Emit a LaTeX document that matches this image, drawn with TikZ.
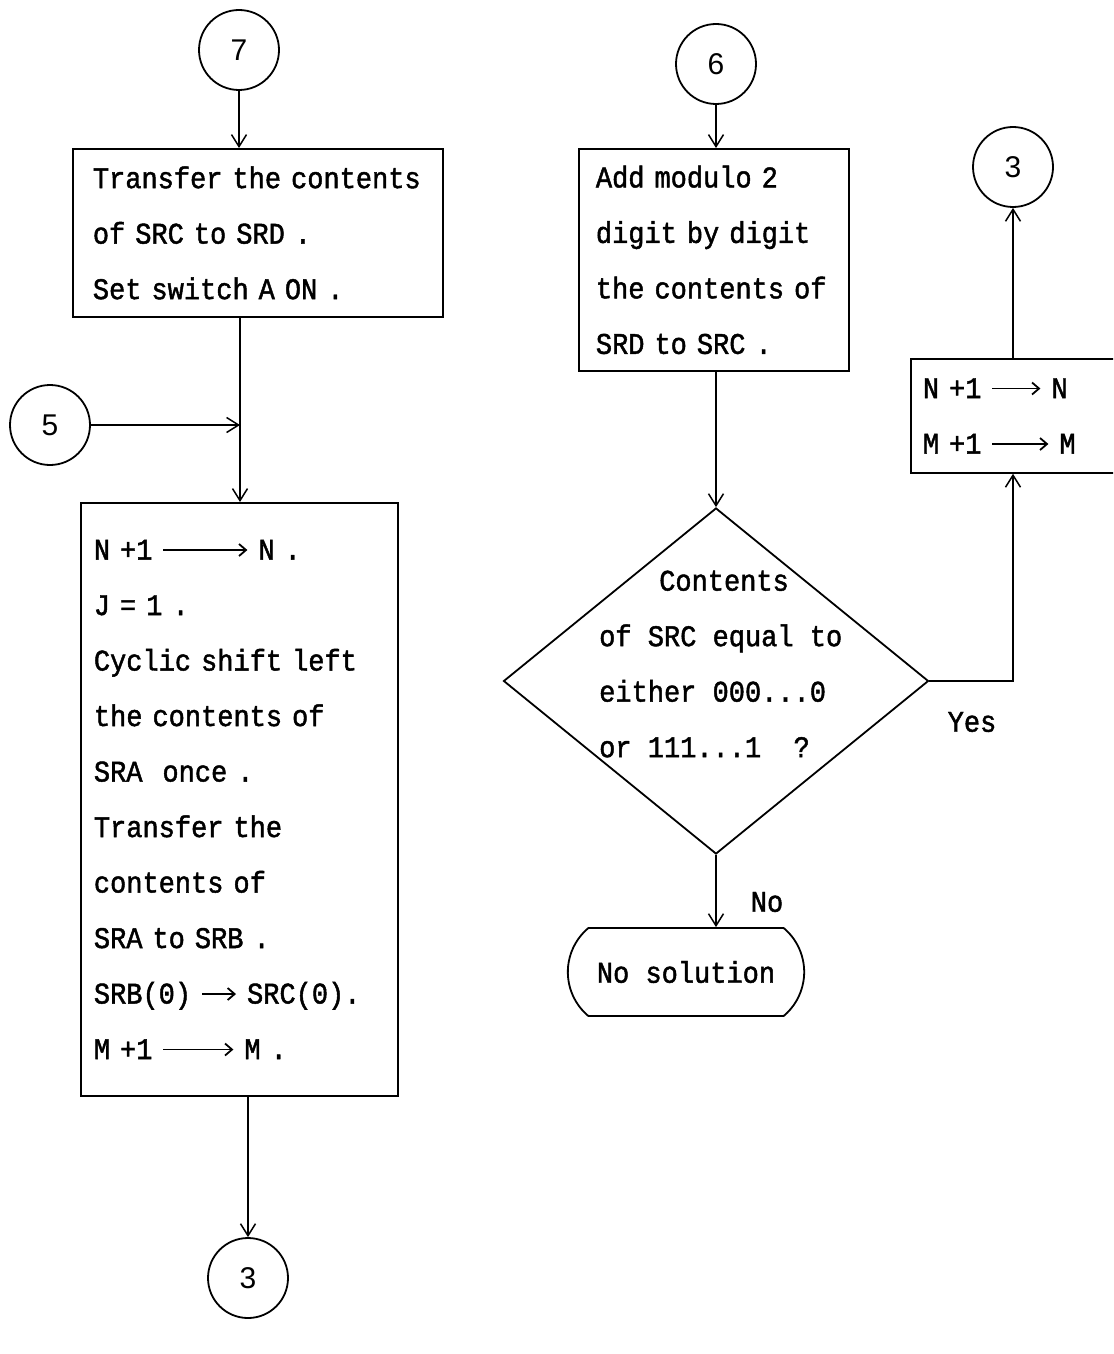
\documentclass[tikz,border=0pt]{standalone}
\usepackage{fontspec}
\usetikzlibrary{arrows.meta,shapes.geometric,shapes.misc}
\newfontfamily\typew[FakeStretch=0.9,FakeBold=1.5]{Liberation Mono}
\newfontfamily\circfont{Liberation Sans}
\newcommand{\tarrow}[1]{\tikz[baseline=-0.6ex]\draw[line width=1.8bp,-{Straight Barb[length=7bp,width=12bp]}] (0,0) -- (#1bp,0);}
\tikzset{
  ln/.style={line width=1.8bp},
  conn/.style={ln,-{Straight Barb[length=12bp,width=15bp,line width=1.5bp]}},
  txt/.style={font=\typew\fontsize{30bp}{55.5bp}\selectfont},
  proc/.style={draw,ln,txt,align=left,anchor=north west,inner xsep=0pt},
  circ/.style={circle,draw,ln,minimum size=80bp,inner sep=0pt,font=\circfont\fontsize{30bp}{30bp}\selectfont},
}
\begin{document}
\begin{tikzpicture}[x=1bp,y=-1bp]
\useasboundingbox (0,0) rectangle (1113,1354);
\fill[white] (0,0) rectangle (1113,1354);
\clip (0,0) rectangle (1113,1354);

% left column
\node[circ] (c7) at (239,50) {7};
\node[proc,text width=370bp,minimum height=168bp] (box1) at (72,148)
  {\leftskip=20bp Transfer the contents\\of SRC to SRD .\\Set switch A ON .\par};
\node[circ] (c5) at (50,425) {5};
\coordinate (j) at (240,425);
\node[proc,text width=317bp,minimum height=593bp] (box2) at (80,502)
  {\leftskip=13bp N +1 \tarrow{84} N .\\J = 1 .\\Cyclic shift left\\the contents of\\SRA\ \ once .\\Transfer the\\contents of\\SRA to SRB .\\SRB(0) \tarrow{34} SRC(0).\\M +1 \tarrow{70} M .\par};
\node[circ] (c3b) at (248,1278) {3};

% right column
\node[circ] (c6) at (716,64) {6};
\node[proc,text width=270bp,minimum height=222bp] (box3) at (578,148)
  {\leftskip=17bp Add modulo 2\\digit by digit\\the contents of\\SRD to SRC .\par};
\node[diamond,draw,ln,minimum width=425bp,minimum height=346bp,inner sep=0pt] (dia) at (716,681) {};
\node[txt,align=left,anchor=west,inner sep=0pt] (diatext) at (599,664)
  {\hspace*{60bp}Contents\\of SRC equal to\\either 000...0\\or 111...1\ \ ?};
\node[rounded rectangle,rounded rectangle arc length=100,draw,ln,txt,minimum width=243bp,minimum height=88bp] (term) at (686,972) {No solution};
\node[circ] (c3r) at (1013,167) {3};
\node[proc,text width=220bp,minimum height=114bp] (box4) at (910,358)
  {\leftskip=12bp N +1 \tarrow{48} N\\M +1 \tarrow{56} M\par};
\node[txt,inner sep=0pt] (yes) at (972,722) {Yes};
\node[txt,inner sep=0pt] (no) at (767,902) {No};

% connectors
\draw[conn] (c7.south) -- (c7.south |- box1.north);
\draw[ln] (j |- box1.south) -- (j);
\draw[conn] (j) -- (j |- box2.north);
\draw[conn] (c5.east) -- (j);
\draw[conn] (c3b.north |- box2.south) -- (c3b.north);
\draw[conn] (c6.south) -- (c6.south |- box3.north);
\draw[conn] (dia.north |- box3.south) -- (dia.north);
\draw[conn] (dia.east) -| (c3r.south |- box4.south);
\draw[conn] (c3r.south |- box4.north) -- (c3r.south);
\draw[conn] (dia.south) -- (dia.south |- term.north);
\end{tikzpicture}
\end{document}
